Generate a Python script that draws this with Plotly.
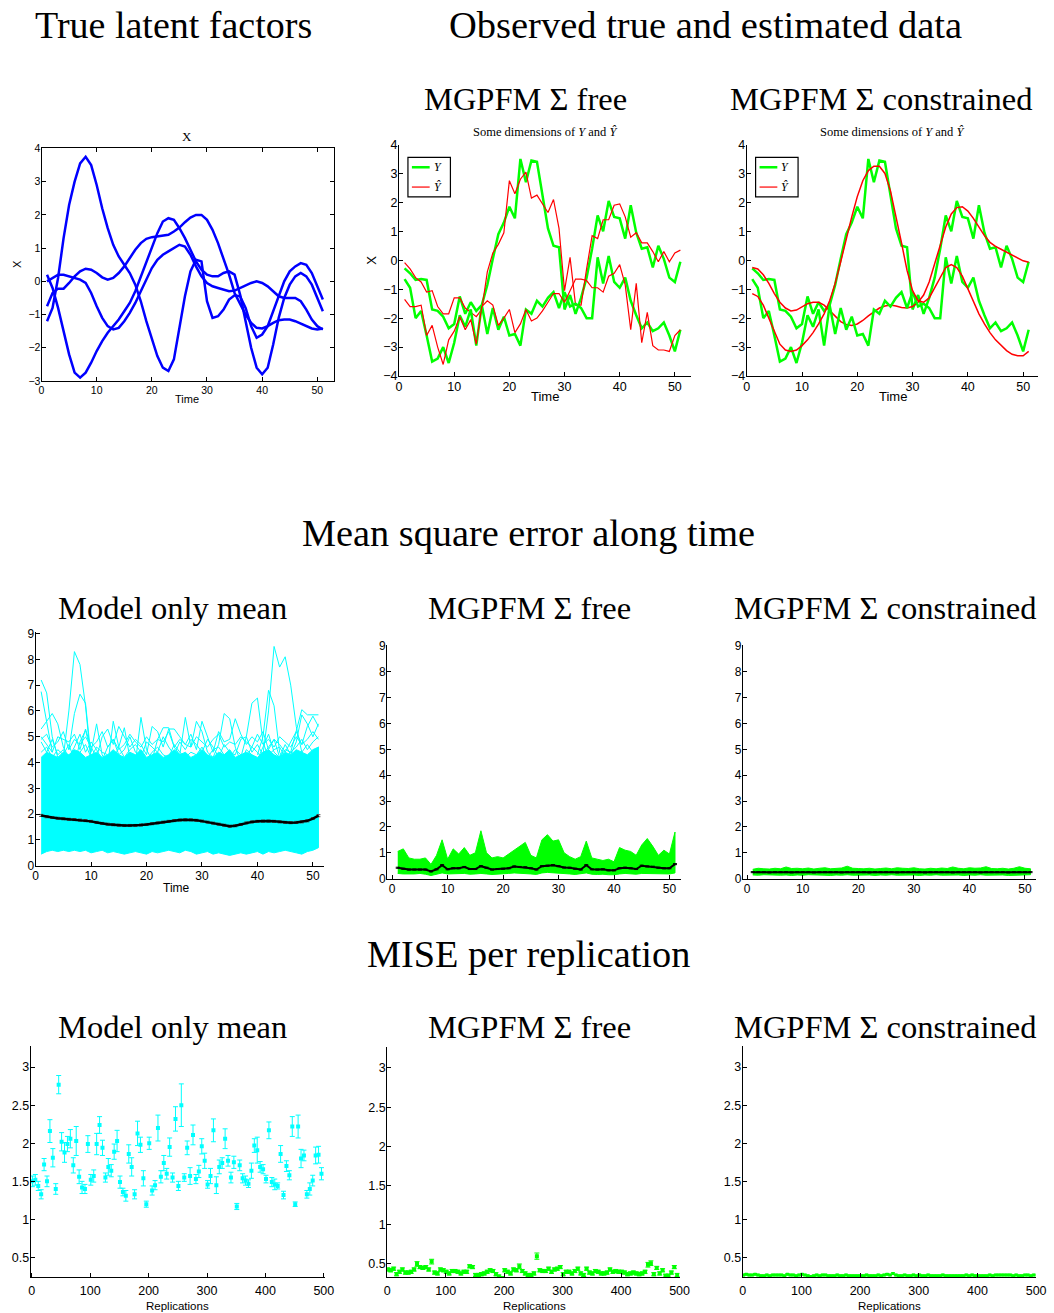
import plotly.graph_objects as go

W, H = 1054, 1313
SERIF = "Liberation Serif"
SANS = "Liberation Sans"
CYAN = "#00FFFF"
GREEN = "#00FF00"
RED = "#FF0000"
BLUE = "#0000FF"

time = list(range(1, 52))
reps = list(range(1, 500, 5))

# ---- true latent factors (4 curves) ----
latent_1 = [-1.2, -0.8, 0.1, 1.3, 2.3, 3.0, 3.55, 3.75, 3.5, 2.9,
            2.2, 1.6, 1.1, 0.75, 0.5, 0.25, -0.1, -0.6, -1.2, -1.75,
            -2.25, -2.6, -2.7, -2.35, -1.4, -0.45, 0.3, 0.65, 0.6, -0.6,
            -1.1, -1.05, -0.85, -0.55, -0.42, -0.45, -0.8, -1.35, -1.7, -1.6,
            -1.35, -0.9, -0.4, 0.0, 0.3, 0.45, 0.55, 0.5, 0.25, -0.15, -0.55]
latent_2 = [0.2, -0.2, -0.8, -1.5, -2.2, -2.75, -2.9, -2.75, -2.45, -2.1,
            -1.8, -1.55, -1.35, -1.15, -0.9, -0.65, -0.3, 0.15, 0.6, 1.05,
            1.45, 1.8, 1.9, 1.85, 1.6, 1.3, 0.95, 0.6, 0.35, 0.2,
            0.15, 0.15, 0.25, 0.3, 0.2, -0.4, -1.2, -2.0, -2.6, -2.8,
            -2.6, -1.9, -1.1, -0.5, -0.1, 0.15, 0.25, 0.15, -0.1, -0.5, -0.9]
latent_3 = [0.0, 0.1, 0.2, 0.2, 0.15, 0.1, 0.05, -0.05, -0.35, -0.75,
            -1.1, -1.35, -1.45, -1.4, -1.2, -0.95, -0.65, -0.3, 0.05, 0.4,
            0.65, 0.8, 0.9, 1.0, 1.1, 1.05, 0.8, 0.45, 0.15, -0.05,
            -0.15, -0.2, -0.25, -0.3, -0.28, -0.2, -0.12, -0.05, 0.0, -0.05,
            -0.15, -0.3, -0.45, -0.5, -0.5, -0.5, -0.6, -0.85, -1.15, -1.35, -1.45]
latent_4 = [-0.75, -0.35, -0.22, -0.22, -0.05, 0.15, 0.3, 0.38, 0.35, 0.25,
            0.12, 0.05, 0.1, 0.25, 0.45, 0.7, 0.95, 1.15, 1.28, 1.33,
            1.35, 1.37, 1.4, 1.5, 1.62, 1.78, 1.92, 2.0, 2.0, 1.85,
            1.55, 1.15, 0.7, 0.2, -0.35, -0.7, -1.0, -1.25, -1.4, -1.42,
            -1.35, -1.25, -1.17, -1.15, -1.15, -1.2, -1.27, -1.35, -1.42, -1.45, -1.42]

# ---- observed Y (2 dims) and estimates ----
y_obs_1 = [-0.28, -0.45, -0.68, -0.65, -0.68, -1.7, -1.75, -1.95, -2.35, -2.2,
           -1.25, -1.85, -1.45, -1.75, -1.55, -0.85, 0.05, 0.9, 1.3, 1.85,
           1.45, 3.5, 2.7, 3.45, 3.4, 2.3, 1.1, 0.5, 0.45, -1.7,
           -1.2, -1.85, -1.3, -0.6, 0.4, 1.55, 1.0, 2.05, 1.5, 1.45,
           0.75, 1.9, 0.95, 0.4, 0.45, -0.25, 0.5, 0.05, -0.6, -0.75, -0.05]
y_obs_2 = [-0.65, -0.95, -2.0, -1.75, -2.6, -3.5, -3.4, -3.0, -3.55, -2.85,
           -1.9, -2.3, -1.7, -2.95, -1.55, -2.55, -1.65, -2.4, -1.95, -2.6,
           -2.55, -2.95, -1.7, -1.85, -1.4, -1.6, -1.3, -1.1, -1.65, -1.1,
           -1.6, -1.5, -1.65, -2.0, -2.0, 0.1, -0.8, 0.15, -0.75, -0.95,
           -0.6, -1.4, -1.9, -2.35, -2.15, -2.45, -2.35, -2.15, -2.6, -3.15, -2.4]
y_free_1 = [-0.08, -0.3, -0.6, -0.75, -1.1, -1.05, -1.6, -1.85, -1.85, -1.3,
            -1.3, -1.65, -1.8, -1.95, -1.7, -0.4, 0.25, 0.55, 0.95, 2.75,
            2.3, 2.8, 3.05, 2.15, 2.25, 1.95, 1.65, 2.1, 1.1, -1.05,
            0.1, -1.55, -1.55, -0.3, 0.85, 0.75, 1.4, 1.4, 1.9, 1.95,
            1.5, 0.8, 0.95, 0.6, 0.6, 0.3, -0.05, 0.3, -0.05, 0.25, 0.35]
y_free_2 = [-1.35, -1.6, -1.6, -1.55, -2.6, -2.25, -3.0, -3.6, -2.75, -2.45,
            -1.95, -2.4, -2.05, -2.9, -1.6, -1.4, -1.55, -2.25, -2.0, -1.7,
            -2.5, -2.2, -1.7, -2.1, -2.0, -1.75, -1.45, -1.15, -1.15, -1.45,
            -1.05, -0.65, -0.65, -0.7, -0.95, -0.95, -1.1, -0.55, -0.45, -0.15,
            -0.85, -2.4, -0.8, -2.85, -1.8, -2.95, -3.1, -3.1, -3.15, -2.6, -2.4]
y_cons_1 = [-0.25, -0.3, -0.5, -0.8, -1.15, -1.45, -1.65, -1.75, -1.72, -1.62,
            -1.5, -1.45, -1.45, -1.55, -1.75, -1.95, -2.12, -2.22, -2.25, -2.2,
            -2.08, -1.92, -1.78, -1.65, -1.58, -1.55, -1.58, -1.63, -1.65, -1.6,
            -1.45, -1.2, -0.75, -0.1, 0.55, 1.15, 1.6, 1.82, 1.85, 1.7,
            1.45, 1.15, 0.85, 0.62, 0.48, 0.38, 0.28, 0.18, 0.08, -0.02, -0.07]
y_cons_2 = [-1.15, -1.25, -1.55, -2.0, -2.5, -2.9, -3.1, -3.15, -3.1, -2.95,
            -2.75, -2.5, -2.2, -1.85, -1.4, -0.8, -0.05, 0.75, 1.5, 2.2,
            2.75, 3.1, 3.25, 3.25, 3.0, 2.4, 1.55, 0.6, -0.35, -1.05,
            -1.4, -1.45, -1.3, -0.95, -0.55, -0.25, -0.15, -0.25, -0.55, -1.0,
            -1.45, -1.85, -2.2, -2.5, -2.75, -2.95, -3.12, -3.25, -3.3, -3.3, -3.15]

# ---- MSE along time: model only mean (cyan bundle) ----
mse_only_low = [0.45, 0.55, 0.6, 0.55, 0.6, 0.55, 0.6, 0.55, 0.6, 0.5,
                0.55, 0.6, 0.5, 0.55, 0.5, 0.45, 0.5, 0.55, 0.5, 0.45,
                0.55, 0.5, 0.55, 0.6, 0.55, 0.5, 0.6, 0.55, 0.45, 0.5,
                0.55, 0.45, 0.5, 0.45, 0.4, 0.45, 0.5, 0.45, 0.5, 0.55,
                0.45, 0.55, 0.5, 0.55, 0.6, 0.55, 0.5, 0.45, 0.55, 0.6, 0.7]
mse_only_band = [4.2, 4.4, 4.3, 4.2, 4.4, 4.3, 4.5, 4.4, 4.2, 4.3,
                 4.4, 4.2, 4.3, 4.5, 4.3, 4.2, 4.4, 4.3, 4.5, 4.2,
                 4.3, 4.4, 4.2, 4.3, 4.5, 4.3, 4.4, 4.2, 4.3, 4.5,
                 4.3, 4.2, 4.4, 4.3, 4.5, 4.2, 4.3, 4.4, 4.3, 4.2,
                 4.4, 4.5, 4.3, 4.2, 4.4, 4.3, 4.5, 4.4, 4.3, 4.5, 4.6]
mse_only_strands = [
    [5.3, 5.6, 5.9, 5.5, 4.6, 4.2, 3.9, 4.8, 5.25, 4.4,
     5.5, 4.3, 3.9, 5.6, 4.6, 5.35, 4.2, 4.0, 5.75, 4.5,
     4.1, 4.9, 5.35, 5.35, 4.6, 4.3, 5.75, 4.6, 5.6, 5.2,
     4.4, 4.2, 4.7, 5.9, 5.7, 4.6, 4.0, 4.5, 4.3, 4.1,
     4.6, 5.1, 4.4, 4.2, 4.7, 4.3, 4.8, 5.85, 5.5, 5.0, 5.5],
    [5.0, 4.7, 4.4, 5.0, 4.9, 4.8, 5.1, 4.5, 5.3, 4.6,
     4.2, 5.0, 5.3, 4.7, 5.4, 5.0, 4.6, 4.9, 4.7, 4.3,
     5.4, 5.2, 4.6, 5.3, 5.3, 5.0, 4.7, 5.1, 4.5, 5.6,
     5.0, 4.4, 5.2, 4.8, 4.9, 5.7, 5.1, 4.7, 5.0, 4.8,
     5.2, 4.5, 4.9, 4.7, 4.4, 4.8, 5.2, 4.7, 5.4, 5.8, 5.4],
    [4.8, 4.4, 4.9, 4.3, 4.5, 4.2, 4.6, 5.1, 4.4, 4.8,
     4.5, 4.1, 4.6, 4.9, 4.3, 4.5, 5.0, 4.4, 4.2, 4.8,
     4.6, 4.4, 5.0, 4.6, 4.3, 4.8, 4.5, 4.9, 4.7, 4.4,
     4.9, 4.6, 4.2, 4.7, 4.4, 4.3, 4.9, 5.0, 4.4, 4.7,
     4.3, 4.6, 4.9, 4.2, 4.5, 4.4, 4.6, 4.9, 4.5, 4.8, 5.0],
    [4.4, 4.6, 4.2, 4.5, 4.3, 4.7, 4.1, 4.4, 4.7, 4.2,
     4.6, 4.4, 4.3, 4.1, 4.6, 4.2, 4.5, 4.7, 4.4, 4.1,
     4.4, 4.6, 4.3, 4.2, 4.7, 4.4, 4.2, 4.4, 4.3, 4.6,
     4.2, 4.5, 4.6, 4.3, 4.2, 4.5, 4.3, 4.2, 4.6, 4.4,
     4.1, 4.3, 4.5, 4.6, 4.2, 4.4, 4.3, 4.4, 4.7, 4.4, 4.6],
    [4.9, 5.1, 4.6, 4.8, 5.2, 4.5, 4.9, 4.7, 5.0, 4.6,
     4.8, 5.2, 4.6, 4.9, 4.5, 4.7, 5.1, 4.8, 4.6, 5.0,
     4.7, 4.9, 4.8, 5.2, 4.6, 4.9, 4.7, 4.6, 5.0, 4.8,
     4.6, 4.9, 5.1, 4.6, 4.8, 4.7, 5.0, 4.8, 4.6, 5.1,
     4.7, 4.9, 4.6, 5.0, 4.8, 4.6, 5.0, 4.7, 4.9, 5.2, 4.9],
]
mse_spike_t = [[1, 2, 3, 4], [1, 2, 3], [5, 6, 7, 8, 9, 10, 11], [6, 7, 8, 9, 10],
               [37, 38, 39, 40, 41, 42], [40, 41, 42, 43, 44, 45],
               [41, 42, 43, 44, 45, 46, 47, 48], [46, 47, 48, 49, 50, 51]]
mse_spike_v = [[7.2, 6.7, 5.0, 4.2], [6.75, 5.5, 4.4], [4.2, 6.0, 8.3, 7.8, 6.2, 4.0, 3.8],
               [4.5, 5.9, 6.65, 6.3, 4.2], [4.2, 5.0, 6.3, 6.5, 4.8, 4.2],
               [4.3, 5.0, 6.8, 6.2, 4.4, 4.0], [4.3, 6.0, 8.5, 7.7, 8.1, 7.0, 5.4, 4.4],
               [4.4, 5.2, 6.05, 5.85, 5.85, 5.85]]
mse_only_avg = [1.95, 1.9, 1.87, 1.84, 1.82, 1.8, 1.79, 1.77, 1.75, 1.72,
                1.68, 1.64, 1.61, 1.59, 1.57, 1.56, 1.56, 1.56, 1.58, 1.6,
                1.63, 1.66, 1.69, 1.72, 1.75, 1.77, 1.78, 1.78, 1.76, 1.73,
                1.69, 1.65, 1.61, 1.57, 1.53, 1.55, 1.6, 1.66, 1.7, 1.72,
                1.73, 1.73, 1.72, 1.7, 1.68, 1.67, 1.68, 1.7, 1.74, 1.83, 1.94]

# ---- MSE along time: MGPFM free / constrained ----
mse_free_hi = [1.05, 1.15, 0.8, 0.75, 0.75, 0.8, 0.55, 0.9, 1.5, 0.75,
               1.15, 0.95, 1.2, 0.9, 1.0, 1.85, 1.0, 0.8, 0.85, 0.8,
               0.95, 1.1, 1.25, 1.4, 0.9, 0.8, 1.5, 1.7, 1.45, 1.5,
               1.0, 0.85, 0.75, 0.85, 1.45, 0.8, 0.75, 0.7, 0.75, 0.65,
               1.2, 1.1, 1.05, 0.9, 1.3, 1.55, 1.25, 0.9, 1.1, 0.95, 1.8]
mse_free_lo = [0.2, 0.18, 0.17, 0.18, 0.2, 0.17, 0.12, 0.18, 0.22, 0.18,
               0.2, 0.19, 0.2, 0.17, 0.18, 0.2, 0.18, 0.16, 0.18, 0.19,
               0.2, 0.22, 0.2, 0.2, 0.18, 0.16, 0.22, 0.24, 0.22, 0.2,
               0.2, 0.18, 0.16, 0.18, 0.22, 0.17, 0.16, 0.17, 0.15, 0.15,
               0.18, 0.2, 0.18, 0.17, 0.2, 0.2, 0.2, 0.19, 0.18, 0.18, 0.22]
mse_free_avg = [0.42, 0.38, 0.35, 0.35, 0.35, 0.35, 0.28, 0.36, 0.52, 0.36,
                0.4, 0.4, 0.45, 0.37, 0.37, 0.48, 0.42, 0.35, 0.37, 0.38,
                0.4, 0.47, 0.45, 0.44, 0.4, 0.35, 0.48, 0.5, 0.52, 0.48,
                0.43, 0.42, 0.38, 0.35, 0.52, 0.36, 0.35, 0.36, 0.32, 0.32,
                0.4, 0.42, 0.4, 0.37, 0.5, 0.47, 0.46, 0.42, 0.4, 0.4, 0.56]
mse_cons_hi = [0.36, 0.4, 0.38, 0.37, 0.4, 0.38, 0.45, 0.39, 0.4, 0.38,
               0.41, 0.37, 0.4, 0.42, 0.38, 0.4, 0.41, 0.48, 0.4, 0.39,
               0.38, 0.4, 0.37, 0.39, 0.41, 0.38, 0.42, 0.4, 0.39, 0.42,
               0.38, 0.37, 0.4, 0.38, 0.41, 0.39, 0.45, 0.4, 0.38, 0.42,
               0.4, 0.41, 0.46, 0.39, 0.38, 0.4, 0.37, 0.4, 0.46, 0.4, 0.38]
mse_cons_lo = [0.14, 0.13, 0.15, 0.13, 0.14, 0.13, 0.14, 0.12, 0.14, 0.13,
               0.15, 0.13, 0.14, 0.13, 0.12, 0.14, 0.13, 0.15, 0.13, 0.14,
               0.13, 0.14, 0.12, 0.14, 0.13, 0.15, 0.13, 0.14, 0.13, 0.14,
               0.12, 0.14, 0.13, 0.15, 0.13, 0.14, 0.13, 0.14, 0.12, 0.14,
               0.13, 0.15, 0.13, 0.14, 0.13, 0.14, 0.12, 0.14, 0.13, 0.14, 0.15]
mse_cons_avg = [0.25, 0.25, 0.25, 0.24, 0.25, 0.25, 0.25, 0.24, 0.25, 0.25,
                0.25, 0.24, 0.25, 0.25, 0.25, 0.25, 0.24, 0.25, 0.25, 0.25,
                0.25, 0.24, 0.25, 0.25, 0.25, 0.25, 0.24, 0.25, 0.25, 0.25,
                0.25, 0.24, 0.25, 0.25, 0.25, 0.25, 0.24, 0.25, 0.25, 0.25,
                0.25, 0.24, 0.25, 0.25, 0.25, 0.25, 0.24, 0.25, 0.25, 0.25, 0.25]

# ---- MISE per replication ----
mise_only = [1.5, 1.52, 1.44, 1.33, 1.72, 1.5, 2.16, 1.81, 1.4, 2.77,
             2.02, 1.88, 1.99, 2.06, 1.71, 2.03, 1.56, 1.42, 1.4, 1.99,
             1.52, 1.57, 1.99, 2.24, 1.94, 1.55, 1.69, 1.64, 1.89, 2.03,
             1.49, 1.36, 1.31, 1.86, 1.69, 1.33, 2.13, 1.98, 1.54, 1.2,
             2.0, 1.38, 1.45, 2.2, 1.56, 1.74, 1.6, 1.95, 1.55, 2.32,
             1.44, 2.5, 1.55, 1.94, 1.57, 2.11, 1.53, 1.63, 1.96, 1.77,
             1.46, 1.57, 2.17, 1.45, 1.69, 1.74, 2.06, 1.77, 1.55, 1.75,
             1.17, 1.71, 1.54, 1.51, 1.47, 1.64, 1.97, 1.91, 1.69, 1.66,
             1.53, 2.17, 1.49, 1.46, 1.44, 1.86, 1.32, 1.7, 1.58, 2.22,
             1.2, 2.22, 1.8, 1.84, 1.33, 1.4, 1.51, 1.84, 1.85, 1.6]
mise_only_err = [0.07, 0.07, 0.06, 0.06, 0.08, 0.07, 0.15, 0.12, 0.07, 0.12,
                 0.12, 0.13, 0.1, 0.12, 0.1, 0.19, 0.09, 0.08, 0.06, 0.11,
                 0.07, 0.08, 0.14, 0.11, 0.1, 0.06, 0.11, 0.08, 0.1, 0.14,
                 0.08, 0.05, 0.07, 0.12, 0.12, 0.06, 0.16, 0.1, 0.1, 0.04,
                 0.08, 0.06, 0.06, 0.17, 0.08, 0.1, 0.07, 0.12, 0.06, 0.16,
                 0.06, 0.28, 0.05, 0.09, 0.11, 0.13, 0.06, 0.08, 0.1, 0.1,
                 0.05, 0.1, 0.15, 0.11, 0.09, 0.07, 0.13, 0.07, 0.07, 0.08,
                 0.04, 0.07, 0.06, 0.06, 0.05, 0.1, 0.09, 0.17, 0.07, 0.06,
                 0.05, 0.11, 0.06, 0.07, 0.04, 0.11, 0.05, 0.07, 0.06, 0.13,
                 0.03, 0.15, 0.12, 0.07, 0.05, 0.08, 0.07, 0.11, 0.11, 0.08]
mise_free = [0.43, 0.42, 0.44, 0.37, 0.4, 0.43, 0.39, 0.39, 0.4, 0.43,
             0.5, 0.46, 0.45, 0.46, 0.43, 0.53, 0.39, 0.38, 0.43, 0.42,
             0.4, 0.38, 0.41, 0.41, 0.4, 0.38, 0.4, 0.4, 0.47, 0.46,
             0.36, 0.36, 0.37, 0.38, 0.4, 0.42, 0.41, 0.37, 0.34, 0.32,
             0.42, 0.4, 0.38, 0.43, 0.42, 0.47, 0.41, 0.38, 0.36, 0.36,
             0.38, 0.6, 0.42, 0.41, 0.41, 0.44, 0.4, 0.43, 0.44, 0.46,
             0.37, 0.4, 0.4, 0.38, 0.41, 0.44, 0.38, 0.36, 0.44, 0.39,
             0.38, 0.41, 0.4, 0.38, 0.38, 0.39, 0.43, 0.4, 0.41, 0.4,
             0.4, 0.39, 0.37, 0.38, 0.39, 0.38, 0.37, 0.38, 0.4, 0.49,
             0.51, 0.37, 0.45, 0.38, 0.42, 0.35, 0.35, 0.39, 0.46, 0.36]
mise_free_err = [0.02, 0.02, 0.02, 0.02, 0.02, 0.02, 0.02, 0.02, 0.02, 0.02,
                 0.03, 0.02, 0.02, 0.02, 0.02, 0.03, 0.02, 0.02, 0.02, 0.02,
                 0.02, 0.02, 0.02, 0.02, 0.02, 0.02, 0.02, 0.02, 0.02, 0.02,
                 0.02, 0.02, 0.02, 0.02, 0.02, 0.02, 0.02, 0.02, 0.02, 0.02,
                 0.02, 0.02, 0.02, 0.02, 0.02, 0.03, 0.02, 0.02, 0.02, 0.02,
                 0.02, 0.04, 0.02, 0.02, 0.02, 0.02, 0.02, 0.02, 0.02, 0.02,
                 0.02, 0.02, 0.02, 0.02, 0.02, 0.02, 0.02, 0.02, 0.02, 0.02,
                 0.02, 0.02, 0.02, 0.02, 0.02, 0.02, 0.02, 0.02, 0.02, 0.02,
                 0.02, 0.02, 0.02, 0.02, 0.02, 0.02, 0.02, 0.02, 0.02, 0.03,
                 0.03, 0.02, 0.02, 0.02, 0.02, 0.02, 0.02, 0.02, 0.02, 0.02]
mise_cons = [0.27, 0.28, 0.27, 0.27, 0.28, 0.27, 0.26, 0.26, 0.27, 0.26,
             0.27, 0.27, 0.27, 0.27, 0.26, 0.28, 0.27, 0.27, 0.26, 0.27,
             0.28, 0.27, 0.26, 0.25, 0.26, 0.27, 0.26, 0.27, 0.27, 0.26,
             0.26, 0.26, 0.27, 0.26, 0.26, 0.27, 0.26, 0.26, 0.26, 0.26,
             0.26, 0.26, 0.27, 0.26, 0.26, 0.26, 0.27, 0.26, 0.27, 0.28,
             0.27, 0.29, 0.27, 0.26, 0.26, 0.27, 0.26, 0.26, 0.27, 0.26,
             0.27, 0.26, 0.26, 0.27, 0.26, 0.26, 0.26, 0.26, 0.27, 0.26,
             0.26, 0.26, 0.26, 0.26, 0.26, 0.26, 0.27, 0.26, 0.27, 0.26,
             0.26, 0.26, 0.26, 0.26, 0.27, 0.26, 0.27, 0.27, 0.27, 0.27,
             0.27, 0.27, 0.26, 0.27, 0.26, 0.26, 0.27, 0.27, 0.26, 0.27]

fig = go.Figure()


def fmt(v):
    return f"{v:g}".replace("-", "\u2212")


def axes(n, px, xr, yr, xticks, yticks, mirror=False, size=11, xstand=-1):
    x0, x1, y0, y1 = px
    sx = "" if n == 1 else str(n)
    common = dict(showline=True, linecolor="black", linewidth=1, ticks="inside",
                  ticklen=4, tickcolor="black", showgrid=False, zeroline=False,
                  mirror="ticks" if mirror else False, tickmode="array",
                  tickfont=dict(family=SANS, size=size, color="black"))
    fig.update_layout({
        f"xaxis{sx}": dict(domain=[x0 / W, x1 / W], range=xr, anchor=f"y{sx}",
                           tickvals=xticks, ticktext=[fmt(v) for v in xticks],
                           ticklabelstandoff=xstand, **common),
        f"yaxis{sx}": dict(domain=[1 - y1 / H, 1 - y0 / H], range=yr, anchor=f"x{sx}",
                           tickvals=yticks, ticktext=[fmt(v) for v in yticks],
                           ticklabelstandoff=-2, **common),
    })
    return dict(xaxis=f"x{sx}", yaxis=f"y{sx}")


def ann(text, x, y, size, family=SERIF, angle=0, xanchor="center", yanchor="middle"):
    fig.add_annotation(text=text, x=x / W, y=1 - y / H, xref="paper", yref="paper",
                       showarrow=False, xanchor=xanchor, yanchor=yanchor, textangle=angle,
                       font=dict(family=family, size=size, color="black"))


t_ticks = [0, 10, 20, 30, 40, 50]
r_ticks = [0, 100, 200, 300, 400, 500]
m_ticks = [0.5, 1, 1.5, 2, 2.5, 3]

# row 1
a1 = axes(1, (39, 335, 143, 378), [0, 53], [-3, 4], t_ticks, list(range(-3, 5)), mirror=True, size=10.5)
a2 = axes(2, (401, 697, 139, 373), [0, 53], [-4, 4], t_ticks, list(range(-4, 5)), size=12.5)
a3 = axes(3, (753, 1048, 139, 373), [0, 52.7], [-4, 4], t_ticks, list(range(-4, 5)), size=12.5)
# row 2
a4 = axes(4, (33, 325, 632, 868), [0, 52], [0, 9.05], t_ticks, list(range(0, 10)), size=12)
a5 = axes(5, (389, 686, 645, 881), [-0.9, 52], [0, 9.03], t_ticks, list(range(0, 10)), size=12)
a6 = axes(6, (749, 1046, 645, 881), [-0.8, 52], [0, 9.03], t_ticks, list(range(0, 10)), size=12)
# row 3
a7 = axes(7, (28, 326, 1050, 1284), [-2, 502], [0.24, 3.28], r_ticks, m_ticks, size=12.5, xstand=2)
a8 = axes(8, (389, 685, 1051, 1284), [0, 500], [0.33, 3.27], r_ticks, m_ticks, size=12.5, xstand=2)
a9 = axes(9, (749, 1046, 1050, 1284), [0, 500], [0.24, 3.28], r_ticks, m_ticks, size=12.5, xstand=2)

# latent factors
for curve in [latent_1, latent_2, latent_3, latent_4]:
    fig.add_trace(go.Scatter(x=time, y=curve, mode="lines", line=dict(color=BLUE, width=2.5), **a1))

# observed vs estimated
for obs, est, ax, w in [(y_obs_1, y_free_1, a2, 1.2), (y_obs_2, y_free_2, a2, 1.2),
                        (y_obs_1, y_cons_1, a3, 1.5), (y_obs_2, y_cons_2, a3, 1.5)]:
    fig.add_trace(go.Scatter(x=time, y=obs, mode="lines", line=dict(color=GREEN, width=2.5), **ax))
    fig.add_trace(go.Scatter(x=time, y=est, mode="lines", line=dict(color=RED, width=w), **ax))

# MSE model only mean
fig.add_trace(go.Scatter(x=time + time[::-1], y=mse_only_band + mse_only_low[::-1], mode="lines",
                         fill="toself", fillcolor=CYAN, line=dict(color=CYAN, width=1), **a4))
for s in mse_only_strands:
    fig.add_trace(go.Scatter(x=time, y=s, mode="lines", line=dict(color=CYAN, width=1), **a4))
for ts, vs in zip(mse_spike_t, mse_spike_v):
    fig.add_trace(go.Scatter(x=ts, y=vs, mode="lines", line=dict(color=CYAN, width=1), **a4))
fig.add_trace(go.Scatter(x=time, y=mse_only_avg, mode="lines", line=dict(color="black", width=2.5),
                         error_y=dict(type="constant", value=0.04, color="#555555", thickness=1, width=2), **a4))

# MSE free / constrained
for hi, lo, avg, ax in [(mse_free_hi, mse_free_lo, mse_free_avg, a5),
                        (mse_cons_hi, mse_cons_lo, mse_cons_avg, a6)]:
    fig.add_trace(go.Scatter(x=time + time[::-1], y=hi + lo[::-1], mode="lines",
                             fill="toself", fillcolor=GREEN, line=dict(color=GREEN, width=1), **ax))
    fig.add_trace(go.Scatter(x=time, y=avg, mode="lines", line=dict(color="black", width=2),
                             error_y=dict(type="constant", value=0.02, color="black", thickness=1, width=2), **ax))

# MISE per replication
fig.add_trace(go.Scatter(x=reps, y=mise_only, mode="markers",
                         marker=dict(color=CYAN, size=4, symbol="square"),
                         error_y=dict(type="data", array=mise_only_err, color=CYAN, thickness=1, width=2.5), **a7))
fig.add_trace(go.Scatter(x=reps, y=mise_free, mode="markers",
                         marker=dict(color=GREEN, size=4, symbol="square"),
                         error_y=dict(type="data", array=mise_free_err, color=GREEN, thickness=1, width=2.5), **a8))
fig.add_trace(go.Scatter(x=reps, y=mise_cons, mode="lines+markers", line=dict(color=GREEN, width=1),
                         marker=dict(color=GREEN, size=3, symbol="square"),
                         error_y=dict(type="constant", value=0.01, color=GREEN, thickness=1, width=2), **a9))

# hand-drawn legends (panel 2 and 3)
for lx in [410, 762]:
    fig.add_shape(type="rect", xref="paper", yref="paper", x0=lx / W, x1=(lx + 43) / W,
                  y0=1 - 192 / H, y1=1 - 152 / H, line=dict(color="black", width=1.2), fillcolor="white")
    fig.add_shape(type="line", xref="paper", yref="paper", x0=(lx + 4) / W, x1=(lx + 22) / W,
                  y0=1 - 162 / H, y1=1 - 162 / H, line=dict(color=GREEN, width=2.5))
    fig.add_shape(type="line", xref="paper", yref="paper", x0=(lx + 4) / W, x1=(lx + 22) / W,
                  y0=1 - 182 / H, y1=1 - 182 / H, line=dict(color=RED, width=1.2))
    ann("<i>Y</i>", lx + 24, 162, 12, xanchor="left")
    ann("<i>\u0176</i>", lx + 24, 182, 12, xanchor="left")

# titles
ann("True latent factors", 173, 18, 38)
ann("Observed true and estimated data", 711, 18, 38.5)
ann("MGPFM \u03a3 free", 529, 93, 32.5)
ann("MGPFM \u03a3 constrained", 889, 93, 32.5)
ann("Mean square error along time", 532, 532, 38.3)
ann("Model only mean", 172, 607, 32.5)
ann("MGPFM \u03a3 free", 533, 607, 32.5)
ann("MGPFM \u03a3 constrained", 893, 607, 32.5)
ann("MISE per replication", 532, 957, 38.3)
ann("Model only mean", 172, 1031, 32.5)
ann("MGPFM \u03a3 free", 533, 1031, 32.5)
ann("MGPFM \u03a3 constrained", 893, 1031, 32.5)

# panel titles and axis labels
ann("X", 186, 131, 13)
ann("Some dimensions of <i>Y</i> and <i>\u0176</i>", 549, 126, 12.5)
ann("Some dimensions of <i>Y</i> and <i>\u0176</i>", 901, 126, 12.5)
ann("X", 14, 260, 11, family=SANS, angle=-90)
ann("X", 373, 256, 13, family=SANS, angle=-90)
ann("Time", 186, 396, 11, family=SANS)
ann("Time", 549, 394, 13, family=SANS)
ann("Time", 901, 394, 13, family=SANS)
ann("Time", 176, 891, 12, family=SANS)
ann("Replications", 177, 1313, 11.5, family=SANS)
ann("Replications", 538, 1313, 11.5, family=SANS)
ann("Replications", 898, 1313, 11.5, family=SANS)

fig.update_layout(width=W, height=H, margin=dict(l=0, r=0, t=0, b=0),
                  paper_bgcolor="white", plot_bgcolor="white", showlegend=False)

fig.write_html("out.html", config={"displayModeBar": False},
               post_script="document.body.style.margin='0';")
